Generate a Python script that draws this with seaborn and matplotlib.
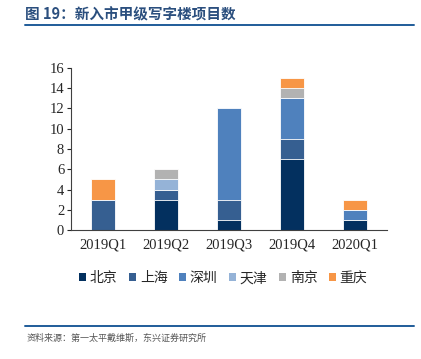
import numpy as np
import pandas as pd
import seaborn as sns
import matplotlib.pyplot as plt
from matplotlib.lines import Line2D
from matplotlib.patches import Patch

# data
quarters = ["2019Q1", "2019Q2", "2019Q3", "2019Q4", "2020Q1"]
cities = ["北京", "上海", "深圳", "天津", "南京", "重庆"]
beijing = [0, 3, 1, 7, 1]
shanghai = [3, 1, 2, 2, 0]
shenzhen = [0, 0, 9, 4, 1]
tianjin = [0, 1, 0, 0, 0]
nanjing = [0, 1, 0, 1, 0]
chongqing = [2, 0, 0, 1, 1]
colors = ["#03305F", "#365F91", "#4F81BD", "#95B3D7", "#B2B2B2", "#F79646"]

series = [beijing, shanghai, shenzhen, tianjin, nanjing, chongqing]
df = pd.DataFrame(dict(zip(cities, series)), index=quarters)
cum = df.cumsum(axis=1)

sns.set_style("white")
plt.rcParams['font.family'] = ['Liberation Serif', 'Noto Sans CJK SC', 'DejaVu Sans']

fig = plt.figure(figsize=(4.21, 3.59), dpi=100)
ax = fig.add_axes([0.169, 0.359, 0.75, 0.452])

# draw cumulative totals from the top layer down so each layer covers the next
for city, c in reversed(list(zip(cities, colors))):
    sns.barplot(x=quarters, y=cum[city].values, color=c, width=0.38, saturation=1,
                edgecolor="white", linewidth=0.6, ax=ax)

ax.set_ylim(0, 16)
ax.set_yticks(range(0, 17, 2))
ax.set_xlim(-0.5, 4.5)
ax.set_ylabel("")
ax.tick_params(axis="y", length=3, width=0.8, direction="out", left=True, labelsize=10.5, pad=2)
ax.tick_params(axis="x", length=0, labelsize=10.5, pad=6)
for s in ["top", "right"]:
    ax.spines[s].set_visible(False)
for s in ["left", "bottom"]:
    ax.spines[s].set_color("#404040")
    ax.spines[s].set_linewidth(0.8)

handles = [Patch(facecolor=c, edgecolor="none") for c in colors]
fig.legend(handles, cities, loc="center", bbox_to_anchor=(0.53, 0.225), ncol=6,
           frameon=False, handlelength=0.55, handleheight=0.55,
           handletextpad=0.25, columnspacing=0.8,
           prop={'family': ['Noto Sans CJK SC'], 'size': 10})

fig.text(0.06, 0.96, "图 19：新入市甲级写字楼项目数", fontsize=10.5, fontweight="bold",
         color="#2B4F7E", va="center", ha="left", family=['Noto Sans CJK SC'])
fig.add_artist(Line2D([0.06, 0.983], [0.93, 0.93], color="#1F5C99", linewidth=1.4))
fig.add_artist(Line2D([0.06, 0.983], [0.092, 0.092], color="#1F5C99", linewidth=1.4))
fig.text(0.063, 0.058, "资料来源：第一太平戴维斯，东兴证券研究所", fontsize=6.5, style="italic",
         color="#555555", va="center", ha="left", family=['Noto Sans CJK SC'])

fig.savefig("out.png", dpi=100)
